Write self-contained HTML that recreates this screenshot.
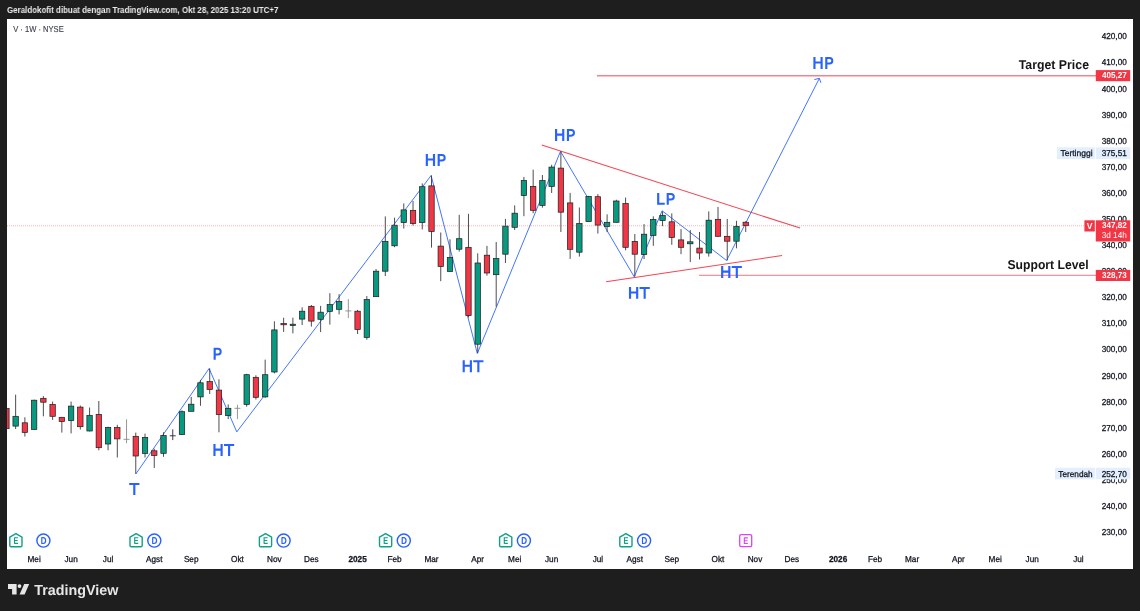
<!DOCTYPE html>
<html><head><meta charset="utf-8"><title>V chart</title>
<style>
html,body{margin:0;padding:0;background:#1e1e1e;}
body{width:1140px;height:611px;overflow:hidden;position:relative;font-family:"Liberation Sans",sans-serif;}
#hdr{position:absolute;left:7px;top:5.2px;font-size:8.7px;font-weight:bold;color:#ececec;white-space:nowrap;line-height:10px;transform-origin:0 0;transform:scaleX(0.915);will-change:transform;}
#chart{position:absolute;left:7px;top:19px;width:1126px;height:549.8px;background:#fff;overflow:hidden;}
#chart svg{position:absolute;left:-7px;top:-19px;will-change:transform;}
.bl{font:bold 16px "Liberation Sans",sans-serif;fill:#2962ff;}
.ax{font:8.6px "Liberation Sans",sans-serif;fill:#131722;stroke:#131722;stroke-width:.28px;}
.ax.b{font-weight:bold;}
.ic{font:bold 7.5px "Liberation Sans",sans-serif;}
.ann{font:bold 12.8px "Liberation Sans",sans-serif;fill:#161616;}
.tagw{font:bold 8.6px "Liberation Sans",sans-serif;fill:#fff;}
.tagn{font:8.6px "Liberation Sans",sans-serif;fill:#fff;}
text{text-rendering:geometricPrecision;}
#logo{position:absolute;left:0;top:570px;width:140px;height:41px;will-change:transform;}
</style></head><body>
<div id="hdr">Geraldokofit dibuat dengan TradingView.com, Okt 28, 2025 13:20 UTC+7</div>
<div id="chart">
<svg width="1140" height="611" viewBox="0 0 1140 611">
<text x="13.2" y="31.7" class="ax" textLength="50.5" lengthAdjust="spacingAndGlyphs" style="fill:#3c3f4a;stroke:#3c3f4a;stroke-width:.12px">V · 1W · NYSE</text>
<!-- price dotted line -->
<!-- target / support lines -->
<line x1="596.9" y1="75.75" x2="1096" y2="75.75" stroke="#f23645" stroke-width="1.7" opacity="0.62"/>
<line x1="699" y1="275.4" x2="1096" y2="275.4" stroke="#f23645" stroke-width="1.2" opacity="0.55"/>
<!-- wedge lines -->
<line x1="541.8" y1="144.9" x2="800.1" y2="228.1" stroke="#f23645" stroke-width="1.05" opacity="0.92"/>
<line x1="606.1" y1="281.7" x2="782.1" y2="255.6" stroke="#f23645" stroke-width="1.05" opacity="0.92"/>
<polyline points="135.8,474 209.1,368.5 236.8,431.9 431.1,175.5 477.3,353.5 560.5,151.4 634.2,276.8 662.1,210.8 726.6,260.5 819.4,78.3" fill="none" stroke="#2962ff" stroke-width="0.88" stroke-linejoin="round"/>
<path d="M814.3,79.6 L819.4,78.3 L820.9,82.8" fill="none" stroke="#2962ff" stroke-width="0.9"/>
<line x1="6.40" y1="408.5" x2="6.40" y2="428.7" stroke="#3a3a3a" stroke-width="0.9"/>
<rect x="3.70" y="408.5" width="5.4" height="20.20" fill="#f23645" stroke="#1c1c1c" stroke-width="0.7"/>
<line x1="15.64" y1="394.7" x2="15.64" y2="429" stroke="#3a3a3a" stroke-width="0.9"/>
<rect x="12.94" y="416.3" width="5.4" height="9.80" fill="#089981" stroke="#1c1c1c" stroke-width="0.7"/>
<line x1="24.88" y1="417.3" x2="24.88" y2="436.5" stroke="#3a3a3a" stroke-width="0.9"/>
<rect x="22.18" y="422.8" width="5.4" height="9.60" fill="#f23645" stroke="#1c1c1c" stroke-width="0.7"/>
<line x1="34.12" y1="399.6" x2="34.12" y2="429.5" stroke="#3a3a3a" stroke-width="0.9"/>
<rect x="31.42" y="400.2" width="5.4" height="29.30" fill="#089981" stroke="#1c1c1c" stroke-width="0.7"/>
<line x1="43.37" y1="396.1" x2="43.37" y2="416.3" stroke="#3a3a3a" stroke-width="0.9"/>
<rect x="40.67" y="398.3" width="5.4" height="3.90" fill="#f23645" stroke="#1c1c1c" stroke-width="0.7"/>
<line x1="52.61" y1="401.6" x2="52.61" y2="419.9" stroke="#3a3a3a" stroke-width="0.9"/>
<rect x="49.91" y="404.5" width="5.4" height="11.80" fill="#f23645" stroke="#1c1c1c" stroke-width="0.7"/>
<line x1="61.85" y1="416.9" x2="61.85" y2="432.6" stroke="#3a3a3a" stroke-width="0.9"/>
<rect x="59.15" y="417.3" width="5.4" height="4.30" fill="#f23645" stroke="#1c1c1c" stroke-width="0.7"/>
<line x1="71.09" y1="401.6" x2="71.09" y2="433.4" stroke="#3a3a3a" stroke-width="0.9"/>
<rect x="68.39" y="406.1" width="5.4" height="14.50" fill="#089981" stroke="#1c1c1c" stroke-width="0.7"/>
<line x1="80.33" y1="405.5" x2="80.33" y2="429.5" stroke="#3a3a3a" stroke-width="0.9"/>
<rect x="77.63" y="407.1" width="5.4" height="19.60" fill="#f23645" stroke="#1c1c1c" stroke-width="0.7"/>
<line x1="89.57" y1="407.5" x2="89.57" y2="431.4" stroke="#3a3a3a" stroke-width="0.9"/>
<rect x="86.87" y="415.3" width="5.4" height="15.70" fill="#089981" stroke="#1c1c1c" stroke-width="0.7"/>
<line x1="98.82" y1="401" x2="98.82" y2="450.3" stroke="#3a3a3a" stroke-width="0.9"/>
<rect x="96.12" y="414.4" width="5.4" height="33.30" fill="#f23645" stroke="#1c1c1c" stroke-width="0.7"/>
<line x1="108.06" y1="426.7" x2="108.06" y2="450.3" stroke="#3a3a3a" stroke-width="0.9"/>
<rect x="105.36" y="427.5" width="5.4" height="16.50" fill="#089981" stroke="#1c1c1c" stroke-width="0.7"/>
<line x1="117.30" y1="424.8" x2="117.30" y2="457.5" stroke="#3a3a3a" stroke-width="0.9"/>
<rect x="114.60" y="427.5" width="5.4" height="11.40" fill="#f23645" stroke="#1c1c1c" stroke-width="0.7"/>
<line x1="126.54" y1="419.3" x2="126.54" y2="443.2" stroke="#8a8a8a" stroke-width="0.9"/>
<line x1="123.54" y1="439.3" x2="129.54" y2="439.3" stroke="#8a8a8a" stroke-width="0.9"/>
<line x1="135.78" y1="432.6" x2="135.78" y2="473.8" stroke="#3a3a3a" stroke-width="0.9"/>
<rect x="133.08" y="436.3" width="5.4" height="19.70" fill="#f23645" stroke="#1c1c1c" stroke-width="0.7"/>
<line x1="145.02" y1="433.6" x2="145.02" y2="457.5" stroke="#3a3a3a" stroke-width="0.9"/>
<rect x="142.32" y="437.4" width="5.4" height="16.00" fill="#089981" stroke="#1c1c1c" stroke-width="0.7"/>
<line x1="154.26" y1="448.7" x2="154.26" y2="468" stroke="#3a3a3a" stroke-width="0.9"/>
<rect x="151.56" y="450.8" width="5.4" height="4.70" fill="#f23645" stroke="#1c1c1c" stroke-width="0.7"/>
<line x1="163.51" y1="432.3" x2="163.51" y2="456.8" stroke="#3a3a3a" stroke-width="0.9"/>
<rect x="160.81" y="435.6" width="5.4" height="17.70" fill="#089981" stroke="#1c1c1c" stroke-width="0.7"/>
<line x1="172.75" y1="429.3" x2="172.75" y2="440.1" stroke="#2a2a2a" stroke-width="0.9"/>
<line x1="169.75" y1="435.8" x2="175.75" y2="435.8" stroke="#2a2a2a" stroke-width="0.9"/>
<line x1="181.99" y1="410.3" x2="181.99" y2="434.6" stroke="#3a3a3a" stroke-width="0.9"/>
<rect x="179.29" y="411.7" width="5.4" height="22.90" fill="#089981" stroke="#1c1c1c" stroke-width="0.7"/>
<line x1="191.23" y1="396.9" x2="191.23" y2="411.3" stroke="#3a3a3a" stroke-width="0.9"/>
<rect x="188.53" y="404.2" width="5.4" height="7.10" fill="#089981" stroke="#1c1c1c" stroke-width="0.7"/>
<line x1="200.47" y1="379.9" x2="200.47" y2="405.8" stroke="#3a3a3a" stroke-width="0.9"/>
<rect x="197.77" y="382.8" width="5.4" height="14.10" fill="#089981" stroke="#1c1c1c" stroke-width="0.7"/>
<line x1="209.71" y1="368.5" x2="209.71" y2="394" stroke="#3a3a3a" stroke-width="0.9"/>
<rect x="207.01" y="381.6" width="5.4" height="7.90" fill="#f23645" stroke="#1c1c1c" stroke-width="0.7"/>
<line x1="218.95" y1="379.3" x2="218.95" y2="432.3" stroke="#3a3a3a" stroke-width="0.9"/>
<rect x="216.25" y="390.1" width="5.4" height="24.50" fill="#f23645" stroke="#1c1c1c" stroke-width="0.7"/>
<line x1="228.20" y1="404.4" x2="228.20" y2="419.1" stroke="#3a3a3a" stroke-width="0.9"/>
<rect x="225.50" y="408.3" width="5.4" height="7.30" fill="#089981" stroke="#1c1c1c" stroke-width="0.7"/>
<line x1="237.44" y1="404.8" x2="237.44" y2="419.1" stroke="#8a8a8a" stroke-width="0.9"/>
<line x1="234.44" y1="408.3" x2="240.44" y2="408.3" stroke="#8a8a8a" stroke-width="0.9"/>
<line x1="246.68" y1="373.8" x2="246.68" y2="406.7" stroke="#3a3a3a" stroke-width="0.9"/>
<rect x="243.98" y="374.7" width="5.4" height="29.70" fill="#089981" stroke="#1c1c1c" stroke-width="0.7"/>
<line x1="255.92" y1="375.3" x2="255.92" y2="399.5" stroke="#3a3a3a" stroke-width="0.9"/>
<rect x="253.22" y="377.3" width="5.4" height="20.00" fill="#f23645" stroke="#1c1c1c" stroke-width="0.7"/>
<line x1="265.16" y1="359.6" x2="265.16" y2="397.9" stroke="#3a3a3a" stroke-width="0.9"/>
<rect x="262.46" y="374.7" width="5.4" height="22.20" fill="#089981" stroke="#1c1c1c" stroke-width="0.7"/>
<line x1="274.40" y1="321.3" x2="274.40" y2="373.4" stroke="#3a3a3a" stroke-width="0.9"/>
<rect x="271.70" y="329.9" width="5.4" height="42.10" fill="#089981" stroke="#1c1c1c" stroke-width="0.7"/>
<line x1="283.64" y1="317.7" x2="283.64" y2="331.9" stroke="#3a3a3a" stroke-width="0.9"/>
<rect x="280.94" y="323.6" width="5.4" height="1.20" fill="#f23645" stroke="#1c1c1c" stroke-width="0.7"/>
<line x1="292.89" y1="317.7" x2="292.89" y2="333.4" stroke="#3a3a3a" stroke-width="0.9"/>
<rect x="290.19" y="324.2" width="5.4" height="1.40" fill="#089981" stroke="#1c1c1c" stroke-width="0.7"/>
<line x1="302.13" y1="307.3" x2="302.13" y2="325" stroke="#3a3a3a" stroke-width="0.9"/>
<rect x="299.43" y="311.2" width="5.4" height="7.90" fill="#089981" stroke="#1c1c1c" stroke-width="0.7"/>
<line x1="311.37" y1="305" x2="311.37" y2="326.6" stroke="#3a3a3a" stroke-width="0.9"/>
<rect x="308.67" y="306.3" width="5.4" height="14.80" fill="#f23645" stroke="#1c1c1c" stroke-width="0.7"/>
<line x1="320.61" y1="305.9" x2="320.61" y2="332.1" stroke="#3a3a3a" stroke-width="0.9"/>
<rect x="317.91" y="312.2" width="5.4" height="7.10" fill="#089981" stroke="#1c1c1c" stroke-width="0.7"/>
<line x1="329.85" y1="293.2" x2="329.85" y2="324.6" stroke="#3a3a3a" stroke-width="0.9"/>
<rect x="327.15" y="304.6" width="5.4" height="6.80" fill="#089981" stroke="#1c1c1c" stroke-width="0.7"/>
<line x1="339.09" y1="294.2" x2="339.09" y2="314.4" stroke="#3a3a3a" stroke-width="0.9"/>
<rect x="336.39" y="301.4" width="5.4" height="7.90" fill="#089981" stroke="#1c1c1c" stroke-width="0.7"/>
<line x1="348.34" y1="299.1" x2="348.34" y2="318.1" stroke="#8a8a8a" stroke-width="0.9"/>
<line x1="345.34" y1="310.9" x2="351.34" y2="310.9" stroke="#8a8a8a" stroke-width="0.9"/>
<line x1="357.58" y1="309.9" x2="357.58" y2="334" stroke="#3a3a3a" stroke-width="0.9"/>
<rect x="354.88" y="311.2" width="5.4" height="18.30" fill="#f23645" stroke="#1c1c1c" stroke-width="0.7"/>
<line x1="366.82" y1="296.1" x2="366.82" y2="339.7" stroke="#3a3a3a" stroke-width="0.9"/>
<rect x="364.12" y="299.5" width="5.4" height="37.90" fill="#089981" stroke="#1c1c1c" stroke-width="0.7"/>
<line x1="376.06" y1="269" x2="376.06" y2="296.7" stroke="#3a3a3a" stroke-width="0.9"/>
<rect x="373.36" y="271.2" width="5.4" height="25.50" fill="#089981" stroke="#1c1c1c" stroke-width="0.7"/>
<line x1="385.30" y1="216.4" x2="385.30" y2="276.1" stroke="#3a3a3a" stroke-width="0.9"/>
<rect x="382.60" y="241.3" width="5.4" height="29.90" fill="#089981" stroke="#1c1c1c" stroke-width="0.7"/>
<line x1="394.54" y1="217.7" x2="394.54" y2="247.2" stroke="#3a3a3a" stroke-width="0.9"/>
<rect x="391.84" y="225.2" width="5.4" height="20.60" fill="#089981" stroke="#1c1c1c" stroke-width="0.7"/>
<line x1="403.78" y1="203.4" x2="403.78" y2="228.5" stroke="#3a3a3a" stroke-width="0.9"/>
<rect x="401.08" y="209.9" width="5.4" height="12.70" fill="#089981" stroke="#1c1c1c" stroke-width="0.7"/>
<line x1="413.03" y1="201" x2="413.03" y2="225.6" stroke="#3a3a3a" stroke-width="0.9"/>
<rect x="410.33" y="210.5" width="5.4" height="13.10" fill="#f23645" stroke="#1c1c1c" stroke-width="0.7"/>
<line x1="422.27" y1="183.4" x2="422.27" y2="229.5" stroke="#3a3a3a" stroke-width="0.9"/>
<rect x="419.57" y="186.7" width="5.4" height="35.90" fill="#089981" stroke="#1c1c1c" stroke-width="0.7"/>
<line x1="431.51" y1="175.5" x2="431.51" y2="247.6" stroke="#3a3a3a" stroke-width="0.9"/>
<rect x="428.81" y="185.9" width="5.4" height="45.60" fill="#f23645" stroke="#1c1c1c" stroke-width="0.7"/>
<line x1="440.75" y1="232.5" x2="440.75" y2="281.2" stroke="#3a3a3a" stroke-width="0.9"/>
<rect x="438.05" y="246.1" width="5.4" height="20.40" fill="#f23645" stroke="#1c1c1c" stroke-width="0.7"/>
<line x1="449.99" y1="239.3" x2="449.99" y2="271.8" stroke="#3a3a3a" stroke-width="0.9"/>
<rect x="447.29" y="257.4" width="5.4" height="14.00" fill="#089981" stroke="#1c1c1c" stroke-width="0.7"/>
<line x1="459.23" y1="214.8" x2="459.23" y2="251.5" stroke="#3a3a3a" stroke-width="0.9"/>
<rect x="456.53" y="238.7" width="5.4" height="10.50" fill="#089981" stroke="#1c1c1c" stroke-width="0.7"/>
<line x1="468.47" y1="213.8" x2="468.47" y2="317.5" stroke="#3a3a3a" stroke-width="0.9"/>
<rect x="465.77" y="247.3" width="5.4" height="68.30" fill="#f23645" stroke="#1c1c1c" stroke-width="0.7"/>
<line x1="477.72" y1="253.3" x2="477.72" y2="352.9" stroke="#3a3a3a" stroke-width="0.9"/>
<rect x="475.02" y="263" width="5.4" height="81.20" fill="#089981" stroke="#1c1c1c" stroke-width="0.7"/>
<line x1="486.96" y1="245.9" x2="486.96" y2="275.7" stroke="#3a3a3a" stroke-width="0.9"/>
<rect x="484.26" y="255.2" width="5.4" height="17.80" fill="#f23645" stroke="#1c1c1c" stroke-width="0.7"/>
<line x1="496.20" y1="242" x2="496.20" y2="306.7" stroke="#3a3a3a" stroke-width="0.9"/>
<rect x="493.50" y="258.6" width="5.4" height="16.10" fill="#089981" stroke="#1c1c1c" stroke-width="0.7"/>
<line x1="505.44" y1="218.9" x2="505.44" y2="263" stroke="#3a3a3a" stroke-width="0.9"/>
<rect x="502.74" y="226.1" width="5.4" height="28.10" fill="#089981" stroke="#1c1c1c" stroke-width="0.7"/>
<line x1="514.68" y1="205.4" x2="514.68" y2="230" stroke="#3a3a3a" stroke-width="0.9"/>
<rect x="511.98" y="213.2" width="5.4" height="14.10" fill="#089981" stroke="#1c1c1c" stroke-width="0.7"/>
<line x1="523.92" y1="176.9" x2="523.92" y2="216.2" stroke="#3a3a3a" stroke-width="0.9"/>
<rect x="521.22" y="180.5" width="5.4" height="15.10" fill="#089981" stroke="#1c1c1c" stroke-width="0.7"/>
<line x1="533.17" y1="169.7" x2="533.17" y2="213.2" stroke="#3a3a3a" stroke-width="0.9"/>
<rect x="530.47" y="186.4" width="5.4" height="23.90" fill="#f23645" stroke="#1c1c1c" stroke-width="0.7"/>
<line x1="542.41" y1="175" x2="542.41" y2="207.7" stroke="#3a3a3a" stroke-width="0.9"/>
<rect x="539.71" y="180.5" width="5.4" height="24.90" fill="#089981" stroke="#1c1c1c" stroke-width="0.7"/>
<line x1="551.65" y1="164.8" x2="551.65" y2="193" stroke="#3a3a3a" stroke-width="0.9"/>
<rect x="548.95" y="167.1" width="5.4" height="19.30" fill="#089981" stroke="#1c1c1c" stroke-width="0.7"/>
<line x1="560.89" y1="151.4" x2="560.89" y2="232" stroke="#3a3a3a" stroke-width="0.9"/>
<rect x="558.19" y="168.1" width="5.4" height="44.10" fill="#f23645" stroke="#1c1c1c" stroke-width="0.7"/>
<line x1="570.13" y1="192.9" x2="570.13" y2="258.9" stroke="#3a3a3a" stroke-width="0.9"/>
<rect x="567.43" y="202.9" width="5.4" height="46.40" fill="#f23645" stroke="#1c1c1c" stroke-width="0.7"/>
<line x1="579.37" y1="207.5" x2="579.37" y2="256.6" stroke="#3a3a3a" stroke-width="0.9"/>
<rect x="576.67" y="223.6" width="5.4" height="28.60" fill="#089981" stroke="#1c1c1c" stroke-width="0.7"/>
<line x1="588.61" y1="195.8" x2="588.61" y2="221.6" stroke="#3a3a3a" stroke-width="0.9"/>
<rect x="585.91" y="196.4" width="5.4" height="25.20" fill="#089981" stroke="#1c1c1c" stroke-width="0.7"/>
<line x1="597.86" y1="194.1" x2="597.86" y2="233.6" stroke="#3a3a3a" stroke-width="0.9"/>
<rect x="595.16" y="196.7" width="5.4" height="28.40" fill="#f23645" stroke="#1c1c1c" stroke-width="0.7"/>
<line x1="607.10" y1="214.3" x2="607.10" y2="232" stroke="#3a3a3a" stroke-width="0.9"/>
<rect x="604.40" y="222.3" width="5.4" height="4.20" fill="#089981" stroke="#1c1c1c" stroke-width="0.7"/>
<line x1="616.34" y1="199.7" x2="616.34" y2="222.5" stroke="#3a3a3a" stroke-width="0.9"/>
<rect x="613.64" y="201" width="5.4" height="21.30" fill="#089981" stroke="#1c1c1c" stroke-width="0.7"/>
<line x1="625.58" y1="197.6" x2="625.58" y2="250.3" stroke="#3a3a3a" stroke-width="0.9"/>
<rect x="622.88" y="203.5" width="5.4" height="43.80" fill="#f23645" stroke="#1c1c1c" stroke-width="0.7"/>
<line x1="634.82" y1="234" x2="634.82" y2="276.5" stroke="#3a3a3a" stroke-width="0.9"/>
<rect x="632.12" y="241.4" width="5.4" height="12.80" fill="#f23645" stroke="#1c1c1c" stroke-width="0.7"/>
<line x1="644.06" y1="224.1" x2="644.06" y2="259.1" stroke="#3a3a3a" stroke-width="0.9"/>
<rect x="641.36" y="234.2" width="5.4" height="20.40" fill="#089981" stroke="#1c1c1c" stroke-width="0.7"/>
<line x1="653.30" y1="216.3" x2="653.30" y2="245.8" stroke="#3a3a3a" stroke-width="0.9"/>
<rect x="650.60" y="219.4" width="5.4" height="16.00" fill="#089981" stroke="#1c1c1c" stroke-width="0.7"/>
<line x1="662.55" y1="211.4" x2="662.55" y2="226.1" stroke="#3a3a3a" stroke-width="0.9"/>
<rect x="659.85" y="215.3" width="5.4" height="5.30" fill="#089981" stroke="#1c1c1c" stroke-width="0.7"/>
<line x1="671.79" y1="213.4" x2="671.79" y2="244.8" stroke="#3a3a3a" stroke-width="0.9"/>
<rect x="669.09" y="221.8" width="5.4" height="15.70" fill="#f23645" stroke="#1c1c1c" stroke-width="0.7"/>
<line x1="681.03" y1="229.1" x2="681.03" y2="254.2" stroke="#3a3a3a" stroke-width="0.9"/>
<rect x="678.33" y="239.9" width="5.4" height="7.40" fill="#f23645" stroke="#1c1c1c" stroke-width="0.7"/>
<line x1="690.27" y1="230.1" x2="690.27" y2="262.1" stroke="#3a3a3a" stroke-width="0.9"/>
<rect x="687.57" y="241.8" width="5.4" height="2.00" fill="#089981" stroke="#1c1c1c" stroke-width="0.7"/>
<line x1="699.51" y1="232" x2="699.51" y2="259.5" stroke="#3a3a3a" stroke-width="0.9"/>
<rect x="696.81" y="248.1" width="5.4" height="4.90" fill="#f23645" stroke="#1c1c1c" stroke-width="0.7"/>
<line x1="708.75" y1="211.4" x2="708.75" y2="256.6" stroke="#3a3a3a" stroke-width="0.9"/>
<rect x="706.05" y="220.2" width="5.4" height="32.80" fill="#089981" stroke="#1c1c1c" stroke-width="0.7"/>
<line x1="718.00" y1="206.9" x2="718.00" y2="236.5" stroke="#3a3a3a" stroke-width="0.9"/>
<rect x="715.30" y="219.3" width="5.4" height="17.00" fill="#f23645" stroke="#1c1c1c" stroke-width="0.7"/>
<line x1="727.24" y1="218.9" x2="727.24" y2="260.5" stroke="#3a3a3a" stroke-width="0.9"/>
<rect x="724.54" y="236.3" width="5.4" height="4.90" fill="#f23645" stroke="#1c1c1c" stroke-width="0.7"/>
<line x1="736.48" y1="220.8" x2="736.48" y2="248.3" stroke="#3a3a3a" stroke-width="0.9"/>
<rect x="733.78" y="226.5" width="5.4" height="14.70" fill="#089981" stroke="#1c1c1c" stroke-width="0.7"/>
<line x1="745.72" y1="221.2" x2="745.72" y2="232" stroke="#3a3a3a" stroke-width="0.9"/>
<rect x="743.02" y="222.2" width="5.4" height="3.50" fill="#f23645" stroke="#1c1c1c" stroke-width="0.7"/>
<line x1="7" y1="225.8" x2="1084" y2="225.8" stroke="#f23645" stroke-width="1.1" stroke-dasharray="1 1" opacity="0.38"/>
<g fill="#2962ff"><path d="M129.20,483.00h10.2v2.0h-4.025v9.9h-2.15v-9.9h-4.025z"/><path fill-rule="evenodd" d="M213.60,347.85H217.90a3.8,3.8 0 0 1 0,7.6H215.75V359.75H213.60zM215.75,349.85V353.45H217.90a1.7999999999999998,1.7999999999999998 0 0 0 0,-3.5999999999999996z"/><path d="M213.40,444.05h2.15v4.55h5.00v-4.55h2.15v11.9h-2.15v-5.30h-5.00v5.30h-2.15z"/><path d="M224.00,444.05h10.2v2.0h-4.025v9.9h-2.15v-9.9h-4.025z"/><path d="M425.77,154.02h2.15v4.55h5.00v-4.55h2.15v11.9h-2.15v-5.30h-5.00v5.30h-2.15z"/><path fill-rule="evenodd" d="M437.62,154.02H441.93a3.8,3.8 0 0 1 0,7.6H439.77V165.92H437.62zM439.77,156.02V159.62H441.93a1.7999999999999998,1.7999999999999998 0 0 0 0,-3.5999999999999996z"/><path d="M462.65,360.25h2.15v4.55h5.00v-4.55h2.15v11.9h-2.15v-5.30h-5.00v5.30h-2.15z"/><path d="M473.25,360.25h10.2v2.0h-4.025v9.9h-2.15v-9.9h-4.025z"/><path d="M555.02,129.05h2.15v4.55h5.00v-4.55h2.15v11.9h-2.15v-5.30h-5.00v5.30h-2.15z"/><path fill-rule="evenodd" d="M566.88,129.05H571.18a3.8,3.8 0 0 1 0,7.6H569.02V140.95H566.88zM569.02,131.05V134.65H571.18a1.7999999999999998,1.7999999999999998 0 0 0 0,-3.5999999999999996z"/><path d="M628.95,286.92h2.15v4.55h5.00v-4.55h2.15v11.9h-2.15v-5.30h-5.00v5.30h-2.15z"/><path d="M639.55,286.92h10.2v2.0h-4.025v9.9h-2.15v-9.9h-4.025z"/><path d="M657.12,192.90h2.15v9.9h5.50v2.0h-7.65z"/><path fill-rule="evenodd" d="M666.67,192.90H670.98a3.8,3.8 0 0 1 0,7.6H668.82V204.80H666.67zM668.82,194.90V198.50H670.98a1.7999999999999998,1.7999999999999998 0 0 0 0,-3.5999999999999996z"/><path d="M721.10,266.05h2.15v4.55h5.00v-4.55h2.15v11.9h-2.15v-5.30h-5.00v5.30h-2.15z"/><path d="M731.70,266.05h10.2v2.0h-4.025v9.9h-2.15v-9.9h-4.025z"/><path d="M813.38,57.02h2.15v4.55h5.00v-4.55h2.15v11.9h-2.15v-5.30h-5.00v5.30h-2.15z"/><path fill-rule="evenodd" d="M825.23,57.02H829.53a3.8,3.8 0 0 1 0,7.6H827.38V68.92H825.23zM827.38,59.02V62.62H829.53a1.7999999999999998,1.7999999999999998 0 0 0 0,-3.5999999999999996z"/></g>
<text x="34.1" y="562.3" text-anchor="middle" textLength="13.23" lengthAdjust="spacingAndGlyphs" class="ax">Mei</text><text x="71.1" y="562.3" text-anchor="middle" textLength="13.24" lengthAdjust="spacingAndGlyphs" class="ax">Jun</text><text x="108.1" y="562.3" text-anchor="middle" textLength="10.50" lengthAdjust="spacingAndGlyphs" class="ax">Jul</text><text x="154.3" y="562.3" text-anchor="middle" textLength="16.43" lengthAdjust="spacingAndGlyphs" class="ax">Agst</text><text x="191.2" y="562.3" text-anchor="middle" textLength="14.61" lengthAdjust="spacingAndGlyphs" class="ax">Sep</text><text x="237.4" y="562.3" text-anchor="middle" textLength="12.78" lengthAdjust="spacingAndGlyphs" class="ax">Okt</text><text x="274.4" y="562.3" text-anchor="middle" textLength="14.61" lengthAdjust="spacingAndGlyphs" class="ax">Nov</text><text x="311.4" y="562.3" text-anchor="middle" textLength="14.61" lengthAdjust="spacingAndGlyphs" class="ax">Des</text><text x="357.6" y="562.3" text-anchor="middle" textLength="18.27" lengthAdjust="spacingAndGlyphs" class="ax b">2025</text><text x="394.5" y="562.3" text-anchor="middle" textLength="14.15" lengthAdjust="spacingAndGlyphs" class="ax">Feb</text><text x="431.5" y="562.3" text-anchor="middle" textLength="14.14" lengthAdjust="spacingAndGlyphs" class="ax">Mar</text><text x="477.7" y="562.3" text-anchor="middle" textLength="12.78" lengthAdjust="spacingAndGlyphs" class="ax">Apr</text><text x="514.7" y="562.3" text-anchor="middle" textLength="13.23" lengthAdjust="spacingAndGlyphs" class="ax">Mei</text><text x="551.6" y="562.3" text-anchor="middle" textLength="13.24" lengthAdjust="spacingAndGlyphs" class="ax">Jun</text><text x="597.9" y="562.3" text-anchor="middle" textLength="10.50" lengthAdjust="spacingAndGlyphs" class="ax">Jul</text><text x="634.8" y="562.3" text-anchor="middle" textLength="16.43" lengthAdjust="spacingAndGlyphs" class="ax">Agst</text><text x="671.8" y="562.3" text-anchor="middle" textLength="14.61" lengthAdjust="spacingAndGlyphs" class="ax">Sep</text><text x="718.0" y="562.3" text-anchor="middle" textLength="12.78" lengthAdjust="spacingAndGlyphs" class="ax">Okt</text><text x="755.0" y="562.3" text-anchor="middle" textLength="14.61" lengthAdjust="spacingAndGlyphs" class="ax">Nov</text><text x="791.9" y="562.3" text-anchor="middle" textLength="14.61" lengthAdjust="spacingAndGlyphs" class="ax">Des</text><text x="838.1" y="562.3" text-anchor="middle" textLength="18.27" lengthAdjust="spacingAndGlyphs" class="ax b">2026</text><text x="875.1" y="562.3" text-anchor="middle" textLength="14.15" lengthAdjust="spacingAndGlyphs" class="ax">Feb</text><text x="912.1" y="562.3" text-anchor="middle" textLength="14.14" lengthAdjust="spacingAndGlyphs" class="ax">Mar</text><text x="958.3" y="562.3" text-anchor="middle" textLength="12.78" lengthAdjust="spacingAndGlyphs" class="ax">Apr</text><text x="995.2" y="562.3" text-anchor="middle" textLength="13.23" lengthAdjust="spacingAndGlyphs" class="ax">Mei</text><text x="1032.2" y="562.3" text-anchor="middle" textLength="13.24" lengthAdjust="spacingAndGlyphs" class="ax">Jun</text><text x="1078.4" y="562.3" text-anchor="middle" textLength="10.50" lengthAdjust="spacingAndGlyphs" class="ax">Jul</text>
<text x="1126.8" y="535.06" text-anchor="end" textLength="25.12" lengthAdjust="spacingAndGlyphs" class="ax">230,00</text><text x="1126.8" y="508.97" text-anchor="end" textLength="25.12" lengthAdjust="spacingAndGlyphs" class="ax">240,00</text><text x="1126.8" y="482.88" text-anchor="end" textLength="25.12" lengthAdjust="spacingAndGlyphs" class="ax">250,00</text><text x="1126.8" y="456.79" text-anchor="end" textLength="25.12" lengthAdjust="spacingAndGlyphs" class="ax">260,00</text><text x="1126.8" y="430.71" text-anchor="end" textLength="25.12" lengthAdjust="spacingAndGlyphs" class="ax">270,00</text><text x="1126.8" y="404.62" text-anchor="end" textLength="25.12" lengthAdjust="spacingAndGlyphs" class="ax">280,00</text><text x="1126.8" y="378.53" text-anchor="end" textLength="25.12" lengthAdjust="spacingAndGlyphs" class="ax">290,00</text><text x="1126.8" y="352.44" text-anchor="end" textLength="25.12" lengthAdjust="spacingAndGlyphs" class="ax">300,00</text><text x="1126.8" y="326.35" text-anchor="end" textLength="25.12" lengthAdjust="spacingAndGlyphs" class="ax">310,00</text><text x="1126.8" y="300.26" text-anchor="end" textLength="25.12" lengthAdjust="spacingAndGlyphs" class="ax">320,00</text><text x="1126.8" y="274.17" text-anchor="end" textLength="25.12" lengthAdjust="spacingAndGlyphs" class="ax">330,00</text><text x="1126.8" y="248.08" text-anchor="end" textLength="25.12" lengthAdjust="spacingAndGlyphs" class="ax">340,00</text><text x="1126.8" y="221.99" text-anchor="end" textLength="25.12" lengthAdjust="spacingAndGlyphs" class="ax">350,00</text><text x="1126.8" y="195.90" text-anchor="end" textLength="25.12" lengthAdjust="spacingAndGlyphs" class="ax">360,00</text><text x="1126.8" y="169.82" text-anchor="end" textLength="25.12" lengthAdjust="spacingAndGlyphs" class="ax">370,00</text><text x="1126.8" y="143.73" text-anchor="end" textLength="25.12" lengthAdjust="spacingAndGlyphs" class="ax">380,00</text><text x="1126.8" y="117.64" text-anchor="end" textLength="25.12" lengthAdjust="spacingAndGlyphs" class="ax">390,00</text><text x="1126.8" y="91.55" text-anchor="end" textLength="25.12" lengthAdjust="spacingAndGlyphs" class="ax">400,00</text><text x="1126.8" y="65.46" text-anchor="end" textLength="25.12" lengthAdjust="spacingAndGlyphs" class="ax">410,00</text><text x="1126.8" y="39.37" text-anchor="end" textLength="25.12" lengthAdjust="spacingAndGlyphs" class="ax">420,00</text>
<path d="M9.80,537.20 L15.90,533.60 L22.00,537.20 L22.00,545.40 Q22.00,546.80 20.60,546.80 L11.20,546.80 Q9.80,546.80 9.80,545.40 Z" fill="#fff" stroke="#10a088" stroke-width="1.4" stroke-linejoin="round"/><path d="M14.50,537.20 V543.80 M14.50,537.70 H18.10 M14.50,540.50 H17.70 M14.50,543.30 H18.10" fill="none" stroke="#10a088" stroke-width="1.15"/><path d="M130.00,537.20 L136.10,533.60 L142.20,537.20 L142.20,545.40 Q142.20,546.80 140.80,546.80 L131.40,546.80 Q130.00,546.80 130.00,545.40 Z" fill="#fff" stroke="#10a088" stroke-width="1.4" stroke-linejoin="round"/><path d="M134.70,537.20 V543.80 M134.70,537.70 H138.30 M134.70,540.50 H137.90 M134.70,543.30 H138.30" fill="none" stroke="#10a088" stroke-width="1.15"/><path d="M259.40,537.20 L265.50,533.60 L271.60,537.20 L271.60,545.40 Q271.60,546.80 270.20,546.80 L260.80,546.80 Q259.40,546.80 259.40,545.40 Z" fill="#fff" stroke="#10a088" stroke-width="1.4" stroke-linejoin="round"/><path d="M264.10,537.20 V543.80 M264.10,537.70 H267.70 M264.10,540.50 H267.30 M264.10,543.30 H267.70" fill="none" stroke="#10a088" stroke-width="1.15"/><path d="M379.50,537.20 L385.60,533.60 L391.70,537.20 L391.70,545.40 Q391.70,546.80 390.30,546.80 L380.90,546.80 Q379.50,546.80 379.50,545.40 Z" fill="#fff" stroke="#10a088" stroke-width="1.4" stroke-linejoin="round"/><path d="M384.20,537.20 V543.80 M384.20,537.70 H387.80 M384.20,540.50 H387.40 M384.20,543.30 H387.80" fill="none" stroke="#10a088" stroke-width="1.15"/><path d="M499.60,537.20 L505.70,533.60 L511.80,537.20 L511.80,545.40 Q511.80,546.80 510.40,546.80 L501.00,546.80 Q499.60,546.80 499.60,545.40 Z" fill="#fff" stroke="#10a088" stroke-width="1.4" stroke-linejoin="round"/><path d="M504.30,537.20 V543.80 M504.30,537.70 H507.90 M504.30,540.50 H507.50 M504.30,543.30 H507.90" fill="none" stroke="#10a088" stroke-width="1.15"/><path d="M619.80,537.20 L625.90,533.60 L632.00,537.20 L632.00,545.40 Q632.00,546.80 630.60,546.80 L621.20,546.80 Q619.80,546.80 619.80,545.40 Z" fill="#fff" stroke="#10a088" stroke-width="1.4" stroke-linejoin="round"/><path d="M624.50,537.20 V543.80 M624.50,537.70 H628.10 M624.50,540.50 H627.70 M624.50,543.30 H628.10" fill="none" stroke="#10a088" stroke-width="1.15"/><circle cx="43.4" cy="540.6" r="6.55" fill="#fff" stroke="#2962ff" stroke-width="1.45"/><path d="M41.80,537.70 V543.50 H43.10 C46.50,543.50 46.50,537.70 43.10,537.70 Z" fill="none" stroke="#2962ff" stroke-width="1.2" stroke-linejoin="round"/><circle cx="154.3" cy="540.6" r="6.55" fill="#fff" stroke="#2962ff" stroke-width="1.45"/><path d="M152.70,537.70 V543.50 H154.00 C157.40,543.50 157.40,537.70 154.00,537.70 Z" fill="none" stroke="#2962ff" stroke-width="1.2" stroke-linejoin="round"/><circle cx="283.6" cy="540.6" r="6.55" fill="#fff" stroke="#2962ff" stroke-width="1.45"/><path d="M282.00,537.70 V543.50 H283.30 C286.70,543.50 286.70,537.70 283.30,537.70 Z" fill="none" stroke="#2962ff" stroke-width="1.2" stroke-linejoin="round"/><circle cx="403.8" cy="540.6" r="6.55" fill="#fff" stroke="#2962ff" stroke-width="1.45"/><path d="M402.20,537.70 V543.50 H403.50 C406.90,543.50 406.90,537.70 403.50,537.70 Z" fill="none" stroke="#2962ff" stroke-width="1.2" stroke-linejoin="round"/><circle cx="523.9" cy="540.6" r="6.55" fill="#fff" stroke="#2962ff" stroke-width="1.45"/><path d="M522.30,537.70 V543.50 H523.60 C527.00,543.50 527.00,537.70 523.60,537.70 Z" fill="none" stroke="#2962ff" stroke-width="1.2" stroke-linejoin="round"/><circle cx="644.1" cy="540.6" r="6.55" fill="#fff" stroke="#2962ff" stroke-width="1.45"/><path d="M642.50,537.70 V543.50 H643.80 C647.20,543.50 647.20,537.70 643.80,537.70 Z" fill="none" stroke="#2962ff" stroke-width="1.2" stroke-linejoin="round"/><rect x="739.7" y="534.7" width="12" height="12" rx="1.4" fill="#fff" stroke="#e040fb" stroke-width="1.3"/><path d="M744.32,537.40 V544.00 M744.32,537.90 H747.92 M744.32,540.70 H747.52 M744.32,543.50 H747.92" fill="none" stroke="#e040fb" stroke-width="1.15"/>
<text x="1018.7" y="68.7" class="ann" textLength="70.3" lengthAdjust="spacingAndGlyphs">Target Price</text>
<text x="1007.5" y="268.7" class="ann" textLength="81.1" lengthAdjust="spacingAndGlyphs">Support Level</text>
<!-- tags -->
<rect x="1095.8" y="70.1" width="34.4" height="11.1" fill="#f23645"/>
<text x="1126.8" y="78.4" text-anchor="end" textLength="24.7" lengthAdjust="spacingAndGlyphs" class="tagw">405,27</text>
<rect x="1095.8" y="269.9" width="34.4" height="11.1" fill="#f23645"/>
<text x="1126.8" y="278.2" text-anchor="end" textLength="24.7" lengthAdjust="spacingAndGlyphs" class="tagw">328,73</text>
<rect x="1084.4" y="220.3" width="10.4" height="11.2" fill="#f23645"/>
<text x="1089.6" y="228.9" text-anchor="middle" class="tagw">V</text>
<rect x="1095.8" y="220.3" width="34.4" height="21.2" fill="#f23645"/>
<text x="1126.8" y="228.3" text-anchor="end" textLength="24.7" lengthAdjust="spacingAndGlyphs" class="tagw">347,82</text>
<text x="1126.8" y="238" text-anchor="end" textLength="25.12" lengthAdjust="spacingAndGlyphs" class="tagn">3d 14h</text>
<!-- hi/lo -->
<rect x="1057" y="147.3" width="37.8" height="11.8" fill="#e3effd"/>
<rect x="1095.8" y="147.3" width="34.4" height="11.8" fill="#e3effd"/>
<text x="1092.6" y="156.2" text-anchor="end" textLength="32.2" lengthAdjust="spacingAndGlyphs" class="ax">Tertinggi</text>
<text x="1126.8" y="156.2" text-anchor="end" textLength="25.12" lengthAdjust="spacingAndGlyphs" class="ax">375,51</text>
<rect x="1055" y="467.7" width="39.8" height="11.6" fill="#e3effd"/>
<rect x="1095.8" y="467.7" width="34.4" height="11.6" fill="#e3effd"/>
<text x="1092.6" y="476.5" text-anchor="end" textLength="34.25" lengthAdjust="spacingAndGlyphs" class="ax">Terendah</text>
<text x="1126.8" y="476.5" text-anchor="end" textLength="25.12" lengthAdjust="spacingAndGlyphs" class="ax">252,70</text>
</svg>
</div>
<svg id="logo" width="140" height="41" viewBox="0 570 140 41">
<path d="M8,584.1 H16.6 V594.6 H12.1 V589 H8 Z" fill="#e6e6e6"/>
<circle cx="19.5" cy="586.1" r="1.9" fill="#e6e6e6"/>
<path d="M24.2,584.1 H29.2 L24.6,594.6 H19.6 Z" fill="#e6e6e6"/>
<text x="34.3" y="594.7" textLength="84.1" lengthAdjust="spacingAndGlyphs" style="font:bold 14.6px 'Liberation Sans',sans-serif" fill="#e6e6e6">TradingView</text>
</svg>
</body></html>
